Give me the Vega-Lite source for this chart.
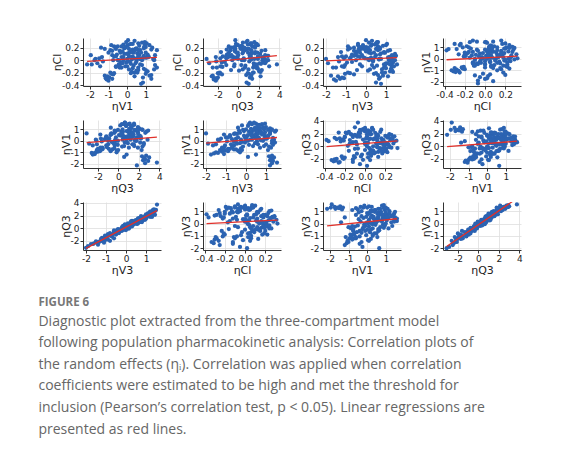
{
  "$schema": "https://vega.github.io/schema/vega-lite/v6.json",
  "background": "white",
  "padding": {"left": 38, "top": 38, "right": 5, "bottom": 5},
  "datasets": {
    "eta": [
      {"Cl": 0.12, "V1": 0.35, "Q3": 0.94, "V3": 0.4},
      {"Cl": 0.05, "V1": -0.2, "Q3": -0.48, "V3": -0.3},
      {"Cl": 0.2, "V1": 0.9, "Q3": 1.62, "V3": 0.7},
      {"Cl": -0.05, "V1": -0.3, "Q3": 1.5, "V3": 1.0},
      {"Cl": 0.15, "V1": -0.4, "Q3": -0.36, "V3": -0.6},
      {"Cl": 0.25, "V1": 0.1, "Q3": 1.18, "V3": 0.3},
      {"Cl": -0.12, "V1": 0.6, "Q3": 1.44, "V3": 0.9},
      {"Cl": 0.08, "V1": 1.5, "Q3": 1.1, "V3": 0.5},
      {"Cl": 0.02, "V1": 0.0, "Q3": -0.04, "V3": 0.1},
      {"Cl": 0.32, "V1": 0.05, "Q3": -0.3, "V3": 0.0},
      {"Cl": -0.18, "V1": 1.1, "Q3": 2.02, "V3": 1.2},
      {"Cl": 0.22, "V1": -0.7, "Q3": -0.94, "V3": -0.9},
      {"Cl": 0.18, "V1": 0.45, "Q3": 0.24, "V3": -0.1},
      {"Cl": -0.08, "V1": 0.8, "Q3": 0.28, "V3": 0.3},
      {"Cl": 0.22, "V1": -0.3, "Q3": 1.36, "V3": 0.6},
      {"Cl": 0.0, "V1": -0.2, "Q3": 2.48, "V3": 1.3},
      {"Cl": 0.13, "V1": 0.2, "Q3": -0.9, "V3": -0.5},
      {"Cl": -0.15, "V1": 1.45, "Q3": 0.98, "V3": 0.8},
      {"Cl": 0.06, "V1": 0.3, "Q3": -1.2, "V3": -1.0},
      {"Cl": 0.27, "V1": 0.6, "Q3": 1.3, "V3": 0.5},
      {"Cl": 0.04, "V1": 0.95, "Q3": 2.36, "V3": 1.1},
      {"Cl": -0.1, "V1": -0.1, "Q3": -0.42, "V3": -0.2},
      {"Cl": 0.16, "V1": 1.6, "Q3": 0.62, "V3": 0.2},
      {"Cl": 0.09, "V1": -0.55, "Q3": -1.12, "V3": -0.7},
      {"Cl": -0.2, "V1": 0.4, "Q3": 1.42, "V3": 0.95},
      {"Cl": 0.21, "V1": 1.0, "Q3": 0.4, "V3": 0.0},
      {"Cl": 0.01, "V1": 0.25, "Q3": 1.24, "V3": 0.65},
      {"Cl": 0.24, "V1": -0.85, "Q3": -0.14, "V3": -0.4},
      {"Cl": -0.07, "V1": 0.7, "Q3": -0.38, "V3": -0.3},
      {"Cl": 0.24, "V1": 1.2, "Q3": 1.9, "V3": 1.0},
      {"Cl": 0.03, "V1": 0.4, "Q3": -1.18, "V3": -0.8},
      {"Cl": 0.11, "V1": 0.55, "Q3": 0.4, "V3": 0.25},
      {"Cl": -0.24, "V1": 1.3, "Q3": 0.76, "V3": 0.6},
      {"Cl": 0.19, "V1": -0.15, "Q3": 0.62, "V3": -0.05},
      {"Cl": 0.07, "V1": 0.1, "Q3": 2.84, "V3": 1.4},
      {"Cl": -0.03, "V1": 0.15, "Q3": -1.32, "V3": -0.7},
      {"Cl": 0.28, "V1": 0.8, "Q3": 0.44, "V3": 0.15},
      {"Cl": 0.0, "V1": -0.45, "Q3": 0.56, "V3": 0.35},
      {"Cl": -0.14, "V1": 0.9, "Q3": 1.9, "V3": 1.25},
      {"Cl": 0.17, "V1": 0.3, "Q3": -1.14, "V3": -0.9},
      {"Cl": 0.05, "V1": 1.15, "Q3": 1.22, "V3": 0.45},
      {"Cl": -0.11, "V1": -0.6, "Q3": -1.56, "V3": -1.1},
      {"Cl": 0.23, "V1": 0.0, "Q3": 1.66, "V3": 0.85},
      {"Cl": -0.08, "V1": 1.5, "Q3": 1.52, "V3": 0.95},
      {"Cl": -0.17, "V1": 0.5, "Q3": 0.06, "V3": 0.1},
      {"Cl": 0.14, "V1": -0.25, "Q3": -0.32, "V3": -0.45},
      {"Cl": 0.02, "V1": 0.75, "Q3": 1.9, "V3": 0.75},
      {"Cl": 0.2, "V1": 1.35, "Q3": 0.18, "V3": -0.2},
      {"Cl": 0.16, "V1": -0.9, "Q3": -0.76, "V3": -0.35},
      {"Cl": 0.26, "V1": 0.2, "Q3": 1.78, "V3": 1.05},
      {"Cl": 0.08, "V1": 0.65, "Q3": -0.68, "V3": -0.55},
      {"Cl": -0.22, "V1": 1.0, "Q3": 1.04, "V3": 0.4},
      {"Cl": 0.12, "V1": -0.35, "Q3": -0.06, "V3": 0.15},
      {"Cl": 0.0, "V1": -0.5, "Q3": 2.34, "V3": 1.15},
      {"Cl": 0.18, "V1": 0.1, "Q3": -0.3, "V3": -0.25},
      {"Cl": -0.09, "V1": 0.35, "Q3": 0.68, "V3": 0.55},
      {"Cl": 0.29, "V1": 0.95, "Q3": 1.56, "V3": 0.6},
      {"Cl": 0.06, "V1": -0.7, "Q3": -1.52, "V3": -1.2},
      {"Cl": -0.13, "V1": 0.3, "Q3": 1.8, "V3": 1.0},
      {"Cl": 0.15, "V1": 0.4, "Q3": 0.48, "V3": 0.05},
      {"Cl": 0.04, "V1": 0.85, "Q3": -0.26, "V3": -0.1},
      {"Cl": -0.19, "V1": 0.25, "Q3": 2.16, "V3": 1.35},
      {"Cl": 0.22, "V1": -0.5, "Q3": 0.36, "V3": -0.15},
      {"Cl": 0.09, "V1": 1.1, "Q3": 1.22, "V3": 0.7},
      {"Cl": -0.04, "V1": -0.05, "Q3": -1.62, "V3": -0.95},
      {"Cl": 0.16, "V1": 0.7, "Q3": 2.62, "V3": 1.2},
      {"Cl": 0.01, "V1": 1.45, "Q3": 0.58, "V3": 0.3},
      {"Cl": 0.25, "V1": -0.2, "Q3": 0.92, "V3": 0.45},
      {"Cl": -0.16, "V1": 0.6, "Q3": -0.72, "V3": -0.45},
      {"Cl": 0.11, "V1": 0.05, "Q3": 1.6, "V3": 0.75},
      {"Cl": 0.07, "V1": 0.6, "Q3": -0.66, "V3": -0.6},
      {"Cl": -0.25, "V1": 1.2, "Q3": 1.26, "V3": 0.85},
      {"Cl": 0.19, "V1": 0.9, "Q3": -0.36, "V3": -0.35},
      {"Cl": 0.03, "V1": 0.3, "Q3": 0.52, "V3": -0.05},
      {"Cl": -0.1, "V1": 0.0, "Q3": 1.78, "V3": 1.3},
      {"Cl": 0.21, "V1": -0.65, "Q3": -0.4, "V3": -0.25},
      {"Cl": 0.13, "V1": 0.15, "Q3": 1.64, "V3": 0.9},
      {"Cl": -0.02, "V1": 0.5, "Q3": 1.06, "V3": 0.35},
      {"Cl": 0.27, "V1": 1.05, "Q3": 1.18, "V3": 0.55},
      {"Cl": 0.05, "V1": -0.3, "Q3": -1.0, "V3": -0.75},
      {"Cl": -0.28, "V1": 0.85, "Q3": 1.12, "V3": 0.7},
      {"Cl": 0.1, "V1": 0.0, "Q3": -1.0, "V3": -0.5},
      {"Cl": 0.17, "V1": 1.3, "Q3": 0.76, "V3": 0.1},
      {"Cl": -0.05, "V1": 0.45, "Q3": 2.06, "V3": 1.1},
      {"Cl": 0.23, "V1": 0.65, "Q3": 0.3, "V3": 0.25},
      {"Cl": 0.08, "V1": -0.8, "Q3": -0.02, "V3": -0.2},
      {"Cl": -0.12, "V1": 1.6, "Q3": 0.64, "V3": 0.4},
      {"Cl": 0.14, "V1": 0.25, "Q3": 0.5, "V3": 0.0},
      {"Cl": 0.0, "V1": 0.8, "Q3": 2.72, "V3": 1.45},
      {"Cl": 0.2, "V1": -0.1, "Q3": -0.66, "V3": -0.6},
      {"Cl": -0.2, "V1": 0.55, "Q3": 1.48, "V3": 0.8},
      {"Cl": 0.06, "V1": 1.15, "Q3": -0.74, "V3": -0.4},
      {"Cl": 0.31, "V1": 0.4, "Q3": 0.88, "V3": 0.3},
      {"Cl": -0.08, "V1": -0.4, "Q3": -1.18, "V3": -1.05},
      {"Cl": 0.12, "V1": 0.75, "Q3": 1.32, "V3": 0.95},
      {"Cl": 0.02, "V1": 1.4, "Q3": 1.54, "V3": 0.65},
      {"Cl": -0.15, "V1": 0.1, "Q3": 0.42, "V3": 0.2},
      {"Cl": 0.24, "V1": 0.95, "Q3": -0.04, "V3": -0.15},
      {"Cl": 0.2, "V1": -1.4, "Q3": 0.56, "V3": 0.1},
      {"Cl": 0.18, "V1": -1.2, "Q3": 0.8, "V3": 0.5},
      {"Cl": 0.12, "V1": -1.0, "Q3": -0.18, "V3": -0.3},
      {"Cl": 0.16, "V1": 0.6, "Q3": 1.26, "V3": 0.6},
      {"Cl": -0.21, "V1": 0.2, "Q3": 0.9, "V3": 0.5},
      {"Cl": 0.04, "V1": 1.05, "Q3": 1.1, "V3": 0.25},
      {"Cl": 0.19, "V1": 0.5, "Q3": -0.78, "V3": -0.8},
      {"Cl": -0.07, "V1": -0.45, "Q3": 1.54, "V3": 0.9},
      {"Cl": 0.1, "V1": -0.15, "Q3": 2.12, "V3": 1.45},
      {"Cl": 0.0, "V1": -0.75, "Q3": -0.6, "V3": -0.5},
      {"Cl": 0.26, "V1": 0.3, "Q3": -0.24, "V3": -0.4},
      {"Cl": -0.3, "V1": 1.3, "Q3": 1.34, "V3": 0.65},
      {"Cl": -0.38, "V1": 0.75, "Q3": 1.0, "V3": 0.75},
      {"Cl": -0.36, "V1": 0.85, "Q3": 0.8, "V3": 0.5},
      {"Cl": 0.13, "V1": 0.2, "Q3": -1.7, "V3": -1.25},
      {"Cl": 0.07, "V1": 0.9, "Q3": 2.9, "V3": 1.5},
      {"Cl": -0.02, "V1": 0.05, "Q3": -2.16, "V3": -1.35},
      {"Cl": 0.0, "V1": 1.45, "Q3": 0.34, "V3": 0.15},
      {"Cl": -0.26, "V1": 0.4, "Q3": 2.16, "V3": 1.1},
      {"Cl": 0.18, "V1": -0.6, "Q3": 1.02, "V3": 0.7},
      {"Cl": -0.06, "V1": 0.2, "Q3": 2.2, "V3": 1.0},
      {"Cl": 0.12, "V1": 1.0, "Q3": 1.84, "V3": 0.9},
      {"Cl": -0.12, "V1": -0.3, "Q3": -2.1, "V3": -1.5},
      {"Cl": 0.03, "V1": 0.55, "Q3": -1.76, "V3": -1.1},
      {"Cl": 0.29, "V1": -0.05, "Q3": 0.78, "V3": 0.55},
      {"Cl": -0.16, "V1": 1.0, "Q3": 2.28, "V3": 1.3},
      {"Cl": 0.05, "V1": 0.6, "Q3": 1.92, "V3": 1.2},
      {"Cl": 0.06, "V1": -0.6, "Q3": 1.9, "V3": 1.25},
      {"Cl": -0.04, "V1": -0.35, "Q3": 2.46, "V3": 1.35},
      {"Cl": 0.15, "V1": -0.8, "Q3": 2.26, "V3": 1.1},
      {"Cl": -0.31, "V1": -1.1, "Q3": -2.4, "V3": -1.6},
      {"Cl": -0.33, "V1": -1.0, "Q3": -2.2, "V3": -1.5},
      {"Cl": -0.28, "V1": -0.95, "Q3": -2.0, "V3": -1.2},
      {"Cl": -0.25, "V1": -1.2, "Q3": -2.5, "V3": -1.75},
      {"Cl": -0.22, "V1": -0.85, "Q3": -1.9, "V3": -1.05},
      {"Cl": -0.3, "V1": -0.8, "Q3": -2.1, "V3": -1.3},
      {"Cl": -0.26, "V1": -1.05, "Q3": -2.6, "V3": -1.4},
      {"Cl": -0.2, "V1": -0.9, "Q3": -1.8, "V3": -0.9},
      {"Cl": -0.23, "V1": -0.75, "Q3": -1.6, "V3": -0.6},
      {"Cl": -0.29, "V1": -1.15, "Q3": -2.3, "V3": -1.1},
      {"Cl": -0.21, "V1": -0.7, "Q3": -2.0, "V3": -0.8},
      {"Cl": -0.07, "V1": -2.15, "Q3": 1.8, "V3": 1.2},
      {"Cl": -0.07, "V1": -1.9, "Q3": 3.75, "V3": 1.55},
      {"Cl": 0.08, "V1": -1.95, "Q3": 2.6, "V3": 1.3},
      {"Cl": -0.05, "V1": -1.6, "Q3": 2.6, "V3": 1.3},
      {"Cl": 0.03, "V1": -1.5, "Q3": 2.5, "V3": 1.25},
      {"Cl": -0.1, "V1": -1.45, "Q3": 3.0, "V3": 1.4},
      {"Cl": 0.05, "V1": -1.35, "Q3": 2.3, "V3": 1.15},
      {"Cl": -0.02, "V1": -1.3, "Q3": 2.7, "V3": 1.3},
      {"Cl": 0.02, "V1": -1.7, "Q3": 2.4, "V3": 1.2},
      {"Cl": 0.0, "V1": -1.75, "Q3": 2.9, "V3": 1.35},
      {"Cl": 0.02, "V1": 0.65, "Q3": -3.1, "V3": -2.0},
      {"Cl": -0.05, "V1": -0.25, "Q3": -2.85, "V3": -1.9},
      {"Cl": -0.12, "V1": -0.4, "Q3": -2.5, "V3": -1.65},
      {"Cl": 0.05, "V1": 0.1, "Q3": -2.2, "V3": -1.4},
      {"Cl": -0.1, "V1": -0.6, "Q3": -1.75, "V3": -1.2}
    ]
  },
  "data": {"name": "eta"},
  "title": {
    "text": "FIGURE 6",
    "subtitle": [
      "Diagnostic plot extracted from the three-compartment model",
      "following population pharmacokinetic analysis: Correlation plots of",
      "the random effects (ηᵢ). Correlation was applied when correlation",
      "coefficients were estimated to be high and met the threshold for",
      "inclusion (Pearson’s correlation test, p < 0.05). Linear regressions are",
      "presented as red lines."
    ],
    "orient": "bottom",
    "anchor": "start",
    "frame": "bounds",
    "dx": -13,
    "offset": 22,
    "font": "Open Sans",
    "fontSize": 11.5,
    "fontWeight": "bold",
    "color": "#777777",
    "subtitleFont": "Open Sans",
    "subtitleFontSize": 14,
    "subtitleColor": "#666666",
    "subtitleLineHeight": 21.6,
    "subtitlePadding": 6
  },
  "columns": 4,
  "bounds": "flush",
  "spacing": {"row": 34, "column": 42},
  "concat": [
    {"width": 78, "height": 48, "layer": [
      {"mark": {"type": "point", "filled": true, "size": 18, "color": "#2b63b2", "opacity": 1},
       "encoding": {
         "x": {"field": "V1", "type": "quantitative", "scale": {"domain": [-2.37, 1.82], "nice": false, "zero": false}, "axis": {"values": [-2, -1, 0, 1], "tickCount": 10, "title": "ηV1", "format": "d", "labelOverlap": false, "labelFlush": false, "labelExpr": "replace(datum.label, '\u2212', '-')"}},
         "y": {"field": "Cl", "type": "quantitative", "scale": {"domain": [-0.415, 0.355], "nice": false, "zero": false}, "axis": {"values": [-0.4, -0.2, 0, 0.2], "tickCount": 10, "title": "ηCl", "format": "~g", "labelOverlap": false, "labelExpr": "replace(datum.label, '\u2212', '-')"}}}},
      {"transform": [{"regression": "Cl", "on": "V1"}],
       "mark": {"type": "line", "color": "#e0302a", "strokeWidth": 1.3, "clip": true},
       "encoding": {"x": {"field": "V1", "type": "quantitative"}, "y": {"field": "Cl", "type": "quantitative"}}}
    ]},
    {"width": 78, "height": 48, "layer": [
      {"mark": {"type": "point", "filled": true, "size": 18, "color": "#2b63b2", "opacity": 1},
       "encoding": {
         "x": {"field": "Q3", "type": "quantitative", "scale": {"domain": [-3.45, 4.15], "nice": false, "zero": false}, "axis": {"values": [-2, 0, 2, 4], "tickCount": 10, "title": "ηQ3", "format": "d", "labelOverlap": false, "labelFlush": false, "labelExpr": "replace(datum.label, '\u2212', '-')"}},
         "y": {"field": "Cl", "type": "quantitative", "scale": {"domain": [-0.415, 0.355], "nice": false, "zero": false}, "axis": {"values": [-0.4, -0.2, 0, 0.2], "tickCount": 10, "title": "ηCl", "format": "~g", "labelOverlap": false, "labelExpr": "replace(datum.label, '\u2212', '-')"}}}},
      {"transform": [{"regression": "Cl", "on": "Q3"}],
       "mark": {"type": "line", "color": "#e0302a", "strokeWidth": 1.3, "clip": true},
       "encoding": {"x": {"field": "Q3", "type": "quantitative"}, "y": {"field": "Cl", "type": "quantitative"}}}
    ]},
    {"width": 78, "height": 48, "layer": [
      {"mark": {"type": "point", "filled": true, "size": 18, "color": "#2b63b2", "opacity": 1},
       "encoding": {
         "x": {"field": "V3", "type": "quantitative", "scale": {"domain": [-2.15, 1.75], "nice": false, "zero": false}, "axis": {"values": [-2, -1, 0, 1], "tickCount": 10, "title": "ηV3", "format": "d", "labelOverlap": false, "labelFlush": false, "labelExpr": "replace(datum.label, '\u2212', '-')"}},
         "y": {"field": "Cl", "type": "quantitative", "scale": {"domain": [-0.415, 0.355], "nice": false, "zero": false}, "axis": {"values": [-0.4, -0.2, 0, 0.2], "tickCount": 10, "title": "ηCl", "format": "~g", "labelOverlap": false, "labelExpr": "replace(datum.label, '\u2212', '-')"}}}},
      {"transform": [{"regression": "Cl", "on": "V3"}],
       "mark": {"type": "line", "color": "#e0302a", "strokeWidth": 1.3, "clip": true},
       "encoding": {"x": {"field": "V3", "type": "quantitative"}, "y": {"field": "Cl", "type": "quantitative"}}}
    ]},
    {"width": 78, "height": 48, "layer": [
      {"mark": {"type": "point", "filled": true, "size": 18, "color": "#2b63b2", "opacity": 1},
       "encoding": {
         "x": {"field": "Cl", "type": "quantitative", "scale": {"domain": [-0.415, 0.355], "nice": false, "zero": false}, "axis": {"values": [-0.4, -0.2, 0, 0.2], "tickCount": 10, "title": "ηCl", "format": ".1f", "labelOverlap": false, "labelFlush": false, "labelExpr": "replace(datum.label, '\u2212', '-')"}},
         "y": {"field": "V1", "type": "quantitative", "scale": {"domain": [-2.37, 1.82], "nice": false, "zero": false}, "axis": {"values": [-2, -1, 0, 1], "tickCount": 10, "title": "ηV1", "format": "d", "labelOverlap": false, "labelExpr": "replace(datum.label, '\u2212', '-')"}}}},
      {"transform": [{"regression": "V1", "on": "Cl"}],
       "mark": {"type": "line", "color": "#e0302a", "strokeWidth": 1.3, "clip": true},
       "encoding": {"x": {"field": "Cl", "type": "quantitative"}, "y": {"field": "V1", "type": "quantitative"}}}
    ]},
    {"width": 78, "height": 48, "layer": [
      {"mark": {"type": "point", "filled": true, "size": 18, "color": "#2b63b2", "opacity": 1},
       "encoding": {
         "x": {"field": "Q3", "type": "quantitative", "scale": {"domain": [-3.45, 4.15], "nice": false, "zero": false}, "axis": {"values": [-2, 0, 2, 4], "tickCount": 10, "title": "ηQ3", "format": "d", "labelOverlap": false, "labelFlush": false, "labelExpr": "replace(datum.label, '\u2212', '-')"}},
         "y": {"field": "V1", "type": "quantitative", "scale": {"domain": [-2.37, 1.82], "nice": false, "zero": false}, "axis": {"values": [-2, -1, 0, 1], "tickCount": 10, "title": "ηV1", "format": "d", "labelOverlap": false, "labelExpr": "replace(datum.label, '\u2212', '-')"}}}},
      {"transform": [{"regression": "V1", "on": "Q3"}],
       "mark": {"type": "line", "color": "#e0302a", "strokeWidth": 1.3, "clip": true},
       "encoding": {"x": {"field": "Q3", "type": "quantitative"}, "y": {"field": "V1", "type": "quantitative"}}}
    ]},
    {"width": 78, "height": 48, "layer": [
      {"mark": {"type": "point", "filled": true, "size": 18, "color": "#2b63b2", "opacity": 1},
       "encoding": {
         "x": {"field": "V3", "type": "quantitative", "scale": {"domain": [-2.15, 1.75], "nice": false, "zero": false}, "axis": {"values": [-2, -1, 0, 1], "tickCount": 10, "title": "ηV3", "format": "d", "labelOverlap": false, "labelFlush": false, "labelExpr": "replace(datum.label, '\u2212', '-')"}},
         "y": {"field": "V1", "type": "quantitative", "scale": {"domain": [-2.37, 1.82], "nice": false, "zero": false}, "axis": {"values": [-2, -1, 0, 1], "tickCount": 10, "title": "ηV1", "format": "d", "labelOverlap": false, "labelExpr": "replace(datum.label, '\u2212', '-')"}}}},
      {"transform": [{"regression": "V1", "on": "V3"}],
       "mark": {"type": "line", "color": "#e0302a", "strokeWidth": 1.3, "clip": true},
       "encoding": {"x": {"field": "V3", "type": "quantitative"}, "y": {"field": "V1", "type": "quantitative"}}}
    ]},
    {"width": 78, "height": 48, "layer": [
      {"mark": {"type": "point", "filled": true, "size": 18, "color": "#2b63b2", "opacity": 1},
       "encoding": {
         "x": {"field": "Cl", "type": "quantitative", "scale": {"domain": [-0.415, 0.355], "nice": false, "zero": false}, "axis": {"values": [-0.4, -0.2, 0, 0.2], "tickCount": 10, "title": "ηCl", "format": ".1f", "labelOverlap": false, "labelFlush": false, "labelExpr": "replace(datum.label, '\u2212', '-')"}},
         "y": {"field": "Q3", "type": "quantitative", "scale": {"domain": [-3.45, 4.15], "nice": false, "zero": false}, "axis": {"values": [-2, 0, 2, 4], "tickCount": 10, "title": "ηQ3", "format": "d", "labelOverlap": false, "labelExpr": "replace(datum.label, '\u2212', '-')"}}}},
      {"transform": [{"regression": "Q3", "on": "Cl"}],
       "mark": {"type": "line", "color": "#e0302a", "strokeWidth": 1.3, "clip": true},
       "encoding": {"x": {"field": "Cl", "type": "quantitative"}, "y": {"field": "Q3", "type": "quantitative"}}}
    ]},
    {"width": 78, "height": 48, "layer": [
      {"mark": {"type": "point", "filled": true, "size": 18, "color": "#2b63b2", "opacity": 1},
       "encoding": {
         "x": {"field": "V1", "type": "quantitative", "scale": {"domain": [-2.37, 1.82], "nice": false, "zero": false}, "axis": {"values": [-2, -1, 0, 1], "tickCount": 10, "title": "ηV1", "format": "d", "labelOverlap": false, "labelFlush": false, "labelExpr": "replace(datum.label, '\u2212', '-')"}},
         "y": {"field": "Q3", "type": "quantitative", "scale": {"domain": [-3.45, 4.15], "nice": false, "zero": false}, "axis": {"values": [-2, 0, 2, 4], "tickCount": 10, "title": "ηQ3", "format": "d", "labelOverlap": false, "labelExpr": "replace(datum.label, '\u2212', '-')"}}}},
      {"transform": [{"regression": "Q3", "on": "V1"}],
       "mark": {"type": "line", "color": "#e0302a", "strokeWidth": 1.3, "clip": true},
       "encoding": {"x": {"field": "V1", "type": "quantitative"}, "y": {"field": "Q3", "type": "quantitative"}}}
    ]},
    {"width": 78, "height": 48, "layer": [
      {"mark": {"type": "point", "filled": true, "size": 18, "color": "#2b63b2", "opacity": 1},
       "encoding": {
         "x": {"field": "V3", "type": "quantitative", "scale": {"domain": [-2.15, 1.75], "nice": false, "zero": false}, "axis": {"values": [-2, -1, 0, 1], "tickCount": 10, "title": "ηV3", "format": "d", "labelOverlap": false, "labelFlush": false, "labelExpr": "replace(datum.label, '\u2212', '-')"}},
         "y": {"field": "Q3", "type": "quantitative", "scale": {"domain": [-3.45, 4.15], "nice": false, "zero": false}, "axis": {"values": [-2, 0, 2, 4], "tickCount": 10, "title": "ηQ3", "format": "d", "labelOverlap": false, "labelExpr": "replace(datum.label, '\u2212', '-')"}}}},
      {"transform": [{"regression": "Q3", "on": "V3"}],
       "mark": {"type": "line", "color": "#e0302a", "strokeWidth": 1.3, "clip": true},
       "encoding": {"x": {"field": "V3", "type": "quantitative"}, "y": {"field": "Q3", "type": "quantitative"}}}
    ]},
    {"width": 78, "height": 48, "layer": [
      {"mark": {"type": "point", "filled": true, "size": 18, "color": "#2b63b2", "opacity": 1},
       "encoding": {
         "x": {"field": "Cl", "type": "quantitative", "scale": {"domain": [-0.415, 0.355], "nice": false, "zero": false}, "axis": {"values": [-0.4, -0.2, 0, 0.2], "tickCount": 10, "title": "ηCl", "format": ".1f", "labelOverlap": false, "labelFlush": false, "labelExpr": "replace(datum.label, '\u2212', '-')"}},
         "y": {"field": "V3", "type": "quantitative", "scale": {"domain": [-2.15, 1.75], "nice": false, "zero": false}, "axis": {"values": [-2, -1, 0, 1], "tickCount": 10, "title": "ηV3", "format": "d", "labelOverlap": false, "labelExpr": "replace(datum.label, '\u2212', '-')"}}}},
      {"transform": [{"regression": "V3", "on": "Cl"}],
       "mark": {"type": "line", "color": "#e0302a", "strokeWidth": 1.3, "clip": true},
       "encoding": {"x": {"field": "Cl", "type": "quantitative"}, "y": {"field": "V3", "type": "quantitative"}}}
    ]},
    {"width": 78, "height": 48, "layer": [
      {"mark": {"type": "point", "filled": true, "size": 18, "color": "#2b63b2", "opacity": 1},
       "encoding": {
         "x": {"field": "V1", "type": "quantitative", "scale": {"domain": [-2.37, 1.82], "nice": false, "zero": false}, "axis": {"values": [-2, -1, 0, 1], "tickCount": 10, "title": "ηV1", "format": "d", "labelOverlap": false, "labelFlush": false, "labelExpr": "replace(datum.label, '\u2212', '-')"}},
         "y": {"field": "V3", "type": "quantitative", "scale": {"domain": [-2.15, 1.75], "nice": false, "zero": false}, "axis": {"values": [-2, -1, 0, 1], "tickCount": 10, "title": "ηV3", "format": "d", "labelOverlap": false, "labelExpr": "replace(datum.label, '\u2212', '-')"}}}},
      {"transform": [{"regression": "V3", "on": "V1"}],
       "mark": {"type": "line", "color": "#e0302a", "strokeWidth": 1.3, "clip": true},
       "encoding": {"x": {"field": "V1", "type": "quantitative"}, "y": {"field": "V3", "type": "quantitative"}}}
    ]},
    {"width": 78, "height": 48, "layer": [
      {"mark": {"type": "point", "filled": true, "size": 18, "color": "#2b63b2", "opacity": 1},
       "encoding": {
         "x": {"field": "Q3", "type": "quantitative", "scale": {"domain": [-3.45, 4.15], "nice": false, "zero": false}, "axis": {"values": [-2, 0, 2, 4], "tickCount": 10, "title": "ηQ3", "format": "d", "labelOverlap": false, "labelFlush": false, "labelExpr": "replace(datum.label, '\u2212', '-')"}},
         "y": {"field": "V3", "type": "quantitative", "scale": {"domain": [-2.15, 1.75], "nice": false, "zero": false}, "axis": {"values": [-2, -1, 0, 1], "tickCount": 10, "title": "ηV3", "format": "d", "labelOverlap": false, "labelExpr": "replace(datum.label, '\u2212', '-')"}}}},
      {"transform": [{"regression": "V3", "on": "Q3"}],
       "mark": {"type": "line", "color": "#e0302a", "strokeWidth": 1.3, "clip": true},
       "encoding": {"x": {"field": "Q3", "type": "quantitative"}, "y": {"field": "V3", "type": "quantitative"}}}
    ]}
  ],
  "config": {
    "view": {"stroke": null},
    "axis": {
      "labelFont": "DejaVu Sans", "labelFontSize": 9, "labelColor": "#222222",
      "labelPadding": 1,
      "titleFont": "DejaVu Sans", "titleFontSize": 11, "titleFontWeight": "normal", "titleColor": "#222222",
      "titlePadding": 1,
      "domainColor": "#333333", "domainWidth": 1,
      "tickColor": "#333333", "tickSize": 3, "tickWidth": 1,
      "gridColor": "#dedede", "gridWidth": 0.8
    },
    "axisY": {"titlePadding": -1}
  }
}
